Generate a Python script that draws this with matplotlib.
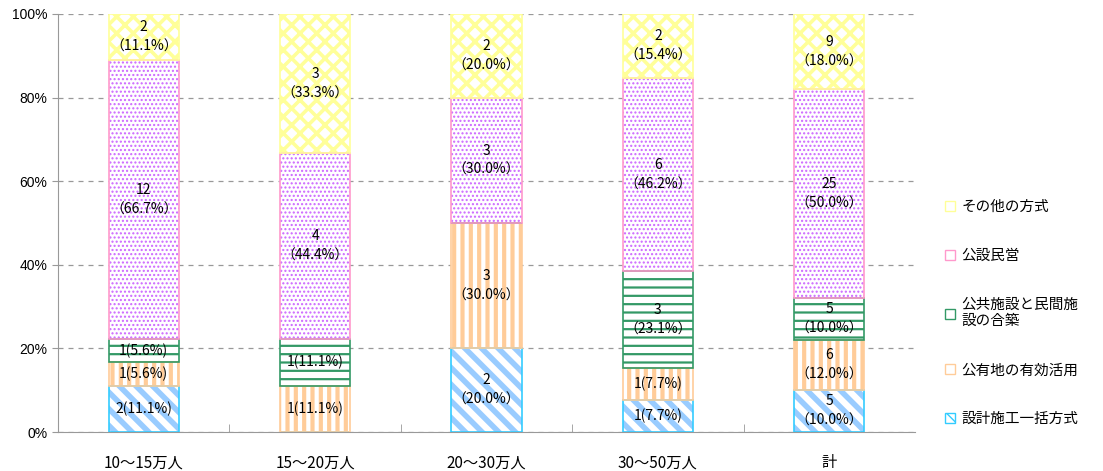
import matplotlib
matplotlib.use("Agg")
import matplotlib.pyplot as plt
from matplotlib.patches import Patch
import numpy as np

plt.rcParams['font.family'] = ['Noto Sans CJK JP', 'DejaVu Sans']

categories = ['10～15万人', '15～20万人', '20～30万人', '30～50万人', '計']
series_names = ['設計施工一括方式', '公有地の有効活用', '公共施設と民間施\n設の合築', '公設民営', 'その他の方式']

sekkei = [2, 0, 2, 1, 5]
kouyuuchi = [1, 1, 3, 1, 6]
gassou = [1, 1, 0, 3, 5]
kousetsu = [12, 4, 3, 6, 25]
sonota = [2, 3, 2, 2, 9]

# 2段表示にするかどうか (True = 件数と割合を改行)
wrap = [
    [False, True, True, False, True],
    [False, False, True, False, True],
    [False, False, True, True, True],
    [True, True, True, True, True],
    [True, True, True, True, True],
]

counts = np.array([sekkei, kouyuuchi, gassou, kousetsu, sonota], dtype=float)
totals = counts.sum(axis=0)
pct = counts / totals * 100

hatches = ['\\\\', '||', '--', '....', 'xx']
hatch_colors = ['#99ccff', '#ffcc99', '#339966', '#cc66ff', '#ffff99']
edge_colors = ['#33ccff', '#ffcc99', '#339966', '#ff99cc', '#ffff99']
hatch_lw = [4.0, 3.0, 1.6, 1.0, 2.6]

fig = plt.figure(figsize=(11.03, 4.71), dpi=100)
ax = fig.add_axes([0.0526, 0.0828, 0.7769, 0.8875])

x = np.arange(len(categories))
w = 0.41
bottom = np.zeros(len(categories))
for i in range(len(series_names)):
    bars = ax.bar(x, pct[i], w, bottom=bottom, color='white', edgecolor=hatch_colors[i],
                  hatch=hatches[i], linewidth=0, zorder=2)
    for p in bars:
        p.set_hatch_linewidth(hatch_lw[i])
    ax.bar(x, pct[i], w, bottom=bottom, fill=False, edgecolor=edge_colors[i],
           linewidth=1.2, zorder=3)
    for j in range(len(categories)):
        if counts[i, j] == 0:
            continue
        n = int(counts[i, j])
        if wrap[i][j]:
            s = f'{n}\n（{pct[i, j]:.1f}%）'
        else:
            s = f'{n}({pct[i, j]:.1f}%)'
        ax.text(x[j], bottom[j] + pct[i, j] / 2, s, ha='center', va='center',
                fontsize=10, linespacing=1.5, zorder=4)
    bottom += pct[i]

ax.set_xlim(-0.5, len(categories) - 0.5)
ax.set_ylim(0, 100)
ax.set_yticks([0, 20, 40, 60, 80, 100])
ax.set_yticklabels([f'{v}%' for v in [0, 20, 40, 60, 80, 100]],
                   family=['Liberation Sans', 'DejaVu Sans'], fontsize=10)
ax.yaxis.grid(True, linestyle=(0, (4, 4)), color='#999999', linewidth=0.9, zorder=0)
ax.set_axisbelow(True)
ax.set_xticks(x)
ax.set_xticklabels(categories, fontsize=11)
ax.set_xticks(np.arange(0.5, len(categories) - 0.5), minor=True)
ax.tick_params(axis='x', which='major', length=0, pad=16)
ax.tick_params(axis='x', which='minor', direction='in', length=6, color='#999999')
ax.tick_params(axis='y', length=4, color='#999999')
for sp in ['top', 'right']:
    ax.spines[sp].set_visible(False)
for sp in ['left', 'bottom']:
    ax.spines[sp].set_color('#999999')

handles = []
for i in range(len(series_names)):
    handles.append(Patch(facecolor='white', edgecolor=edge_colors[i], hatch=hatches[i][0]))
fig.legend(handles[::-1], series_names[::-1], loc='center left',
           bbox_to_anchor=(0.845, 0.335), frameon=False, fontsize=10.5,
           handlelength=0.7, handleheight=0.7, handletextpad=0.4, labelspacing=2.4)

fig.savefig('out.png', dpi=100)
